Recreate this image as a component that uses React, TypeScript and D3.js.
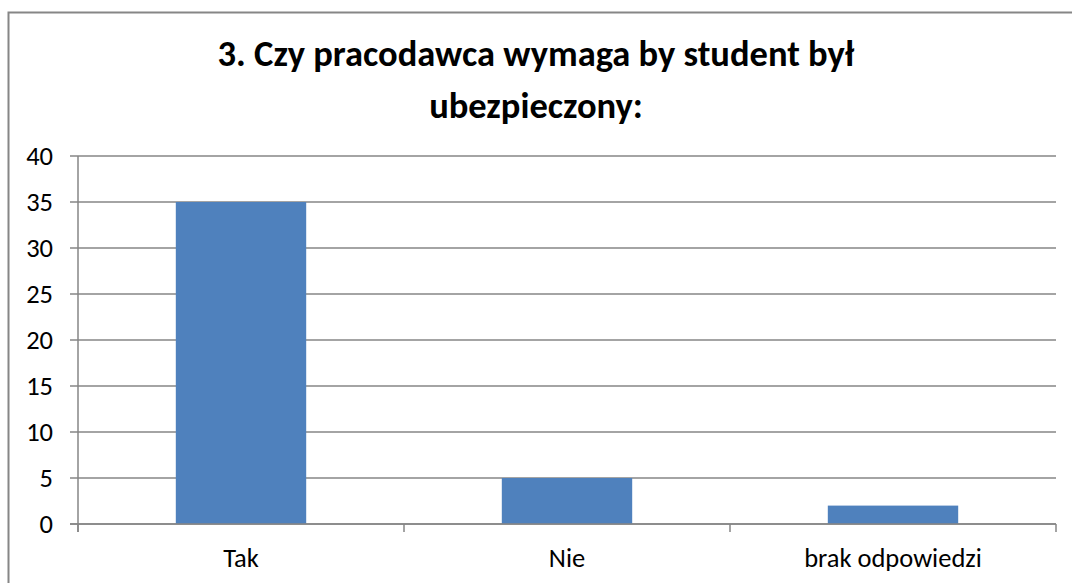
import React from 'react';
import * as d3 from 'd3';

const categories = ['Tak', 'Nie', 'brak odpowiedzi'];
const values = [35, 5, 2];
const yTicks = [0, 5, 10, 15, 20, 25, 30, 35, 40];
const titleLines = ['3. Czy pracodawca wymaga by student był', 'ubezpieczony:'];

const W = 1072;
const H = 583;
const plot = { left: 78, right: 1056, top: 156, bottom: 524 };
const axisColor = '#868686';
const barColor = '#4f81bd';
const font = 'Carlito, Calibri, Lato, sans-serif';

const App = () => {
  const x = d3.scaleBand<string>().domain(categories).range([plot.left, plot.right]).padding(0);
  const y = d3.scaleLinear().domain([0, 40]).range([plot.bottom, plot.top]);
  const barW = x.bandwidth() * 0.4;
  const bounds = [...categories.map(c => x(c) as number), plot.right];

  return (
    <svg width={W} height={H} style={{ position: 'absolute', left: 0, top: 0, background: '#fff' }}>
      {/* frame */}
      <path d={`M8.5,${H} V12.5 H${W}`} fill="none" stroke={axisColor} strokeWidth={2} />

      {/* title */}
      {titleLines.map((t, i) => (
        <text key={i} x={536} y={66 + i * 52} textAnchor="middle" fontFamily={font}
          fontWeight="bold" fontSize={36.5} fill="#000">{t}</text>
      ))}

      {/* gridlines + y ticks */}
      {yTicks.map(t => (
        <g key={t}>
          <line x1={plot.left - 8} x2={plot.right} y1={y(t)} y2={y(t)} stroke={axisColor} strokeWidth={1.5} />
          <text x={53} y={y(t)} dy="0.35em" textAnchor="end" fontFamily={font} fontSize={26.5} fill="#000">{t}</text>
        </g>
      ))}

      {/* bars */}
      {categories.map((c, i) => (
        <rect key={c} x={(x(c) as number) + (x.bandwidth() - barW) / 2} y={y(values[i])}
          width={barW} height={y(0) - y(values[i])} fill={barColor} />
      ))}

      {/* axes */}
      <line x1={plot.left} x2={plot.left} y1={plot.top} y2={plot.bottom + 8} stroke={axisColor} strokeWidth={1.5} />
      <line x1={plot.left - 8} x2={plot.right} y1={plot.bottom} y2={plot.bottom} stroke={axisColor} strokeWidth={1.5} />
      {bounds.map((b, i) => (
        <line key={i} x1={b} x2={b} y1={plot.bottom} y2={plot.bottom + 8} stroke={axisColor} strokeWidth={1.5} />
      ))}
      {categories.map(c => (
        <text key={c} x={(x(c) as number) + x.bandwidth() / 2} y={567} textAnchor="middle"
          fontFamily={font} fontSize={26.5} fill="#000">{c}</text>
      ))}
    </svg>
  );
};

export default App;
